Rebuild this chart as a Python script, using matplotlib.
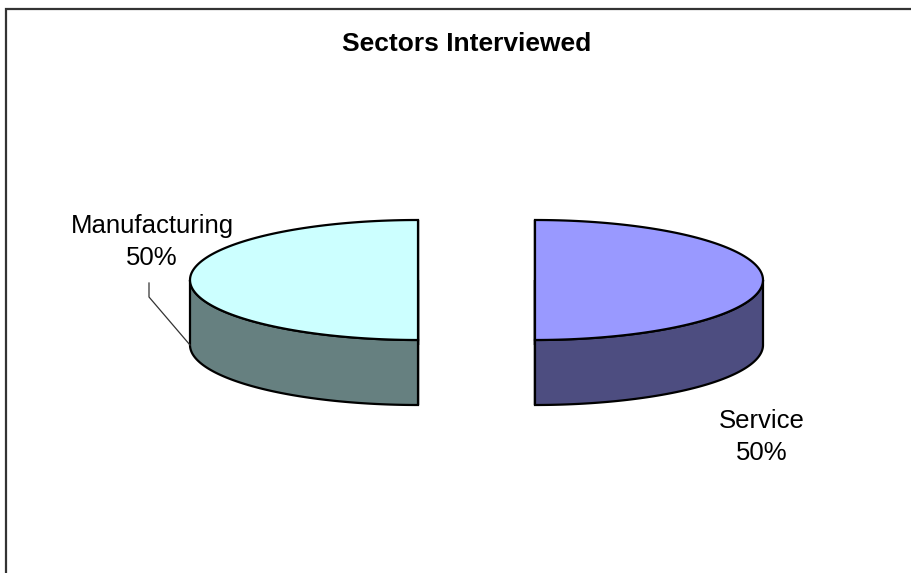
import numpy as np
import matplotlib.pyplot as plt
from matplotlib.patches import Polygon

plt.rcParams['font.family'] = ['Liberation Sans', 'DejaVu Sans']

title = 'Sectors Interviewed'
sectors = ['Manufacturing', 'Service']
shares = [50, 50]
top_colors = ['#CCFFFF', '#9999FF']
side_colors = ['#668080', '#4D4D80']

W, H = 911, 573
fig = plt.figure(figsize=(W / 100, H / 100), dpi=100)
ax = fig.add_axes([0, 0, 1, 1])
ax.set_xlim(0, W)
ax.set_ylim(H, 0)
ax.axis('off')

# pie geometry in pixel units (y grows downwards)
cx, cy = 476.5, 280
rx, ry = 228, 60
depth = 65
explode = 58.5


def rim(t0, t1, ox, oy, dz=0, n=120):
    t = np.radians(np.linspace(t0, t1, n))
    return np.column_stack([ox + rx * np.cos(t), oy - ry * np.sin(t) + dz])


fracs = np.array(shares, dtype=float) / sum(shares)
start = 90.0
wedges = []
for f in fracs:
    t0, t1 = start, start + 360 * f
    mid = np.radians((t0 + t1) / 2)
    ox = cx + explode * np.cos(mid)
    oy = cy - explode * ry / rx * np.sin(mid)
    wedges.append((t0, t1, ox, oy))
    start = t1

lw = 1.6
for (t0, t1, ox, oy), tc, sc in zip(wedges, top_colors, side_colors):
    # radial cut faces
    for a in (t0, t1):
        e = rim(a, a, ox, oy, n=1)[0]
        face = [(ox, oy), tuple(e), (e[0], e[1] + depth), (ox, oy + depth)]
        ax.add_patch(Polygon(face, closed=True, fc=sc, ec='black', lw=lw, zorder=2))
    # outer wall on the front half
    a0, a1 = max(t0, 180), min(t1, 360)
    if a0 < a1:
        upper = rim(a0, a1, ox, oy)
        lower = rim(a0, a1, ox, oy, depth)[::-1]
        ax.add_patch(Polygon(np.vstack([upper, lower]), closed=True,
                             fc=sc, ec='black', lw=lw, zorder=3))
    # top face
    top = np.vstack([[ox, oy], rim(t0, t1, ox, oy), [ox, oy]])
    ax.add_patch(Polygon(top, closed=True, fc=tc, ec='black', lw=lw, zorder=4))

ax.text(467, 44, title, ha='center', va='center', fontsize=19,
        fontweight='bold', zorder=5)

# labels
lab_pos = [(152, 242), (762, 437)]
for name, v, (lx, ly) in zip(sectors, shares, lab_pos):
    ax.text(lx, ly, f'{name}\n{v}%', ha='center', va='center', fontsize=18.5,
            linespacing=1.45, zorder=5)

# leader line for the first label
t0, t1, ox, oy = wedges[0]
ex, ey = rim(180, 180, ox, oy, depth, n=1)[0]
ax.plot([149, 149, ex], [283, 297, ey], color='#333333', lw=0.9, zorder=5)

# chart frame (left and top edges)
ax.plot([6, 6, W], [H, 9, 9], color='#333333', lw=1.6, zorder=6,
        solid_joinstyle='miter')

fig.savefig('out.png', dpi=100)
